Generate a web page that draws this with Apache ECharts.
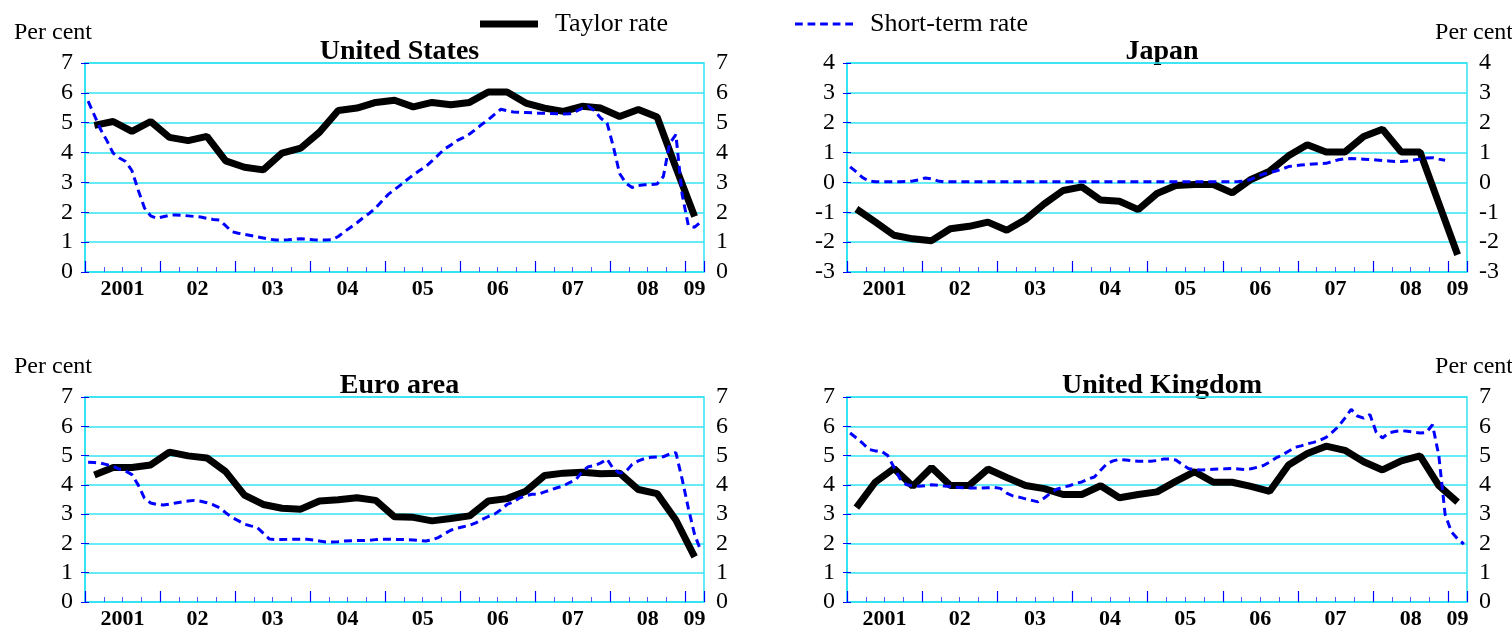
<!DOCTYPE html>
<html>
<head>
<meta charset="utf-8">
<title>Taylor rate and short-term rate</title>
<script src="https://cdn.jsdelivr.net/npm/echarts@6/dist/echarts.min.js"></script>
<style>
	html, body { margin: 0; padding: 0; background: #fff; }
	#chart { width: 1512px; height: 630px; }
</style>
</head>
<body>
<div id="chart"></div>
<script>
// x axis: 2001Q1 .. 2009Q1, one unit per quarter
const yearLabels = ['2001', '02', '03', '04', '05', '06', '07', '08', '09'];

// Taylor rate, quarterly (33 values)
const usTaylor = [4.91, 5.04, 4.71, 5.04, 4.51, 4.40, 4.54, 3.72, 3.51, 3.42, 3.98, 4.15, 4.68, 5.41, 5.49, 5.68, 5.75, 5.53, 5.68, 5.60, 5.68, 6.03, 6.03, 5.66, 5.49, 5.38, 5.55, 5.49, 5.21, 5.44, 5.19, 3.50, 1.86];
const jpTaylor = [-0.89, -1.32, -1.77, -1.89, -1.95, -1.55, -1.47, -1.33, -1.60, -1.24, -0.72, -0.27, -0.15, -0.59, -0.63, -0.91, -0.37, -0.10, -0.07, -0.07, -0.35, 0.10, 0.38, 0.89, 1.26, 1.02, 1.02, 1.54, 1.78, 1.02, 1.02, -0.70, -2.42];
const euTaylor = [4.34, 4.59, 4.59, 4.68, 5.12, 4.99, 4.92, 4.45, 3.65, 3.33, 3.20, 3.17, 3.45, 3.49, 3.56, 3.47, 2.91, 2.89, 2.77, 2.85, 2.94, 3.45, 3.53, 3.78, 4.32, 4.40, 4.43, 4.38, 4.40, 3.84, 3.70, 2.80, 1.54];
const ukTaylor = [3.22, 4.09, 4.56, 3.95, 4.59, 3.98, 3.98, 4.54, 4.25, 3.98, 3.87, 3.67, 3.67, 3.97, 3.56, 3.67, 3.76, 4.12, 4.45, 4.09, 4.09, 3.95, 3.78, 4.68, 5.07, 5.32, 5.18, 4.79, 4.51, 4.82, 4.99, 3.97, 3.41];

// Short-term rate, monthly from Jan 2001 (one row per year)
const usShort = [
	5.72, 5.25, 4.77, 4.40, 3.98, 3.82, 3.70, 3.40, 2.75, 2.15, 1.88, 1.80,
	1.85, 1.90, 1.91, 1.90, 1.88, 1.86, 1.84, 1.80, 1.76, 1.74, 1.55, 1.35,
	1.30, 1.26, 1.22, 1.18, 1.14, 1.10, 1.07, 1.07, 1.08, 1.10, 1.11, 1.10,
	1.08, 1.07, 1.07, 1.08, 1.19, 1.35, 1.50, 1.65, 1.82, 1.97, 2.15, 2.38,
	2.60, 2.76, 2.92, 3.09, 3.25, 3.40, 3.53, 3.72, 3.92, 4.12, 4.25, 4.40,
	4.50, 4.62, 4.78, 4.95, 5.10, 5.28, 5.45, 5.40, 5.36, 5.35, 5.34, 5.33,
	5.32, 5.32, 5.31, 5.30, 5.29, 5.30, 5.38, 5.48, 5.55, 5.40, 5.15, 4.99,
	4.20, 3.30, 2.98, 2.83, 2.90, 2.92, 2.93, 2.95, 3.20, 4.30, 4.60, 2.60,
	1.55, 1.50, 1.68
];
const jpShort = [
	0.52, 0.35, 0.16, 0.05, 0.02, 0.02, 0.02, 0.02, 0.02, 0.03, 0.05, 0.09,
	0.15, 0.12, 0.05, 0.02, 0.02, 0.02, 0.02, 0.02, 0.02, 0.02, 0.02, 0.02,
	0.02, 0.02, 0.02, 0.02, 0.02, 0.02, 0.02, 0.02, 0.02, 0.02, 0.02, 0.02,
	0.02, 0.02, 0.02, 0.02, 0.02, 0.02, 0.02, 0.02, 0.02, 0.02, 0.02, 0.02,
	0.02, 0.02, 0.02, 0.02, 0.02, 0.02, 0.02, 0.02, 0.02, 0.02, 0.02, 0.02,
	0.02, 0.02, 0.03, 0.05, 0.10, 0.20, 0.28, 0.33, 0.38, 0.45, 0.53, 0.56,
	0.58, 0.60, 0.62, 0.63, 0.64, 0.70, 0.76, 0.79, 0.80, 0.79, 0.78, 0.77,
	0.75, 0.73, 0.72, 0.70, 0.70, 0.72, 0.75, 0.78, 0.82, 0.83, 0.78, 0.74
];
const euShort = [
	4.77, 4.76, 4.74, 4.69, 4.63, 4.54, 4.47, 4.35, 4.00, 3.55, 3.38, 3.33,
	3.31, 3.34, 3.38, 3.42, 3.45, 3.47, 3.44, 3.39, 3.32, 3.22, 3.05, 2.89,
	2.78, 2.66, 2.60, 2.55, 2.35, 2.15, 2.13, 2.13, 2.14, 2.14, 2.14, 2.14,
	2.12, 2.08, 2.05, 2.05, 2.06, 2.08, 2.09, 2.10, 2.10, 2.11, 2.13, 2.14,
	2.14, 2.14, 2.13, 2.13, 2.12, 2.10, 2.08, 2.12, 2.20, 2.33, 2.45, 2.52,
	2.57, 2.62, 2.70, 2.82, 2.92, 3.00, 3.15, 3.33, 3.42, 3.55, 3.63, 3.68,
	3.68, 3.76, 3.83, 3.90, 3.96, 4.08, 4.17, 4.45, 4.62, 4.66, 4.75, 4.88,
	4.55, 4.40, 4.45, 4.70, 4.82, 4.90, 4.94, 4.95, 4.96, 5.05, 5.10, 4.20,
	3.20, 2.30, 1.75
];
const ukShort = [
	5.77, 5.60, 5.42, 5.21, 5.16, 5.15, 5.00, 4.60, 4.20, 4.00, 3.97, 3.95,
	3.97, 4.00, 3.99, 3.96, 3.94, 3.92, 3.90, 3.89, 3.89, 3.89, 3.90, 3.91,
	3.88, 3.72, 3.62, 3.58, 3.52, 3.47, 3.42, 3.55, 3.72, 3.85, 3.92, 3.97,
	4.05, 4.10, 4.20, 4.27, 4.50, 4.72, 4.82, 4.87, 4.85, 4.82, 4.81, 4.81,
	4.81, 4.83, 4.88, 4.88, 4.85, 4.70, 4.56, 4.52, 4.51, 4.52, 4.53, 4.54,
	4.55, 4.56, 4.54, 4.52, 4.55, 4.60, 4.66, 4.78, 4.92, 5.02, 5.15, 5.28,
	5.33, 5.40, 5.45, 5.52, 5.62, 5.80, 6.00, 6.28, 6.58, 6.35, 6.28, 6.40,
	5.80, 5.60, 5.78, 5.82, 5.85, 5.83, 5.80, 5.77, 5.79, 6.05, 5.00, 3.00,
	2.40, 2.15, 1.98
];

const FONT = '"Liberation Serif", "Times New Roman", serif';
const CYAN = '#33e3f2';
const BLUE = '#0000ff';
const QUARTERS = usTaylor.length; // 33

const panels = [
	{ name: 'United States', taylor: usTaylor, short: usShort, min: 0, max: 7, left: 85, top: 63, width: 619, side: 'left' },
	{ name: 'Japan', taylor: jpTaylor, short: jpShort, min: -3, max: 4, left: 847, top: 63, width: 620, side: 'right' },
	{ name: 'Euro area', taylor: euTaylor, short: euShort, min: 0, max: 7, left: 85, top: 397, width: 619, side: 'left' },
	{ name: 'United Kingdom', taylor: ukTaylor, short: ukShort, min: 0, max: 7, left: 847, top: 397, width: 620, side: 'right' },
];
const plotHeight = 209;

// year label sits in the middle of the quarters it covers
const yearLabelAt = {};
yearLabels.forEach((label, k) => {
	const end = Math.min(4 * k + 4, QUARTERS);
	yearLabelAt[(4 * k + end) / 2] = label;
});

const grid = [], xAxis = [], yAxis = [], series = [], graphic = [];

panels.forEach((p, g) => {
	grid.push({ left: p.left, top: p.top, width: p.width, height: plotHeight, show: true, borderColor: CYAN, borderWidth: 1.5 });

	const xBase = { type: 'value', gridIndex: g, min: 0, max: QUARTERS, position: 'bottom', splitLine: { show: false } };
	// quarter ticks
	xAxis.push(Object.assign({}, xBase, {
		interval: 1,
		axisLine: { show: true, onZero: false, lineStyle: { color: CYAN, width: 1.5 } },
		axisTick: { show: true, inside: true, length: 5, lineStyle: { color: '#5555ff', width: 1 } },
		axisLabel: { show: false },
	}));
	// year ticks
	xAxis.push(Object.assign({}, xBase, {
		interval: 4,
		axisLine: { show: false, onZero: false },
		axisTick: { show: true, inside: true, length: 11, lineStyle: { color: BLUE, width: 1.2 } },
		axisLabel: { show: false },
	}));
	// year labels
	xAxis.push(Object.assign({}, xBase, {
		interval: 0.5,
		axisLine: { show: false, onZero: false },
		axisTick: { show: false },
		axisLabel: {
			margin: 6,
			color: '#000',
			fontFamily: FONT,
			fontSize: 22,
			fontWeight: 'bold',
			formatter: (v) => yearLabelAt[v] || '',
		},
	}));

	const yBase = {
		type: 'value', gridIndex: g, min: p.min, max: p.max, interval: 1,
		axisLine: { show: true, lineStyle: { color: CYAN, width: 1.5 } },
		axisTick: { show: true, inside: true, length: 4, lineStyle: { color: BLUE, width: 1 } },
		axisLabel: { margin: 12, color: '#000', fontFamily: FONT, fontSize: 24 },
	};
	yAxis.push(Object.assign({}, yBase, { position: 'left', splitLine: { show: true, lineStyle: { color: CYAN, width: 1.6 } } }));
	yAxis.push(Object.assign({}, yBase, { position: 'right', splitLine: { show: false } }));

	series.push({
		name: 'Taylor rate',
		type: 'line',
		xAxisIndex: 3 * g,
		yAxisIndex: 2 * g,
		data: p.taylor.map((v, i) => [i + 0.5, v]),
		symbol: 'none',
		lineStyle: { color: '#000', width: 7 },
		itemStyle: { color: '#000' },
		z: 3,
	});
	series.push({
		name: 'Short-term rate',
		type: 'line',
		xAxisIndex: 3 * g,
		yAxisIndex: 2 * g,
		data: p.short.map((v, m) => [(m + 0.5) / 3, v]),
		symbol: 'none',
		lineStyle: { color: BLUE, width: 3, type: [8, 5] },
		itemStyle: { color: BLUE },
		z: 4,
	});

	// panel title + "Per cent"
	graphic.push({
		type: 'text', x: p.left + p.width / 2 + 5, y: p.top - 25,
		style: { text: p.name, font: 'bold 28px ' + FONT, fill: '#000', textAlign: 'center', textVerticalAlign: 'top' },
	});
	graphic.push({
		type: 'text', x: p.side === 'left' ? 14 : 1513, y: p.top - 42,
		style: { text: 'Per cent', font: '24px ' + FONT, fill: '#000', textAlign: p.side, textVerticalAlign: 'top' },
	});
});

const legendBase = {
	top: 11,
	padding: 0,
	itemWidth: 58,
	selectedMode: false,
	textStyle: { fontFamily: FONT, fontSize: 26, color: '#000', padding: [0, 0, 0, 12] },
};

const option = {
	animation: false,
	backgroundColor: '#fff',
	legend: [
		// solid thick bar
		Object.assign({}, legendBase, { data: ['Taylor rate'], left: 480, icon: 'rect', itemHeight: 7 }),
		// five short dashes
		Object.assign({}, legendBase, {
			data: ['Short-term rate'], left: 795, itemHeight: 3,
			icon: 'path://M0,0H8V3H0Z M13,0H21V3H13Z M26,0H34V3H26Z M39,0H47V3H39Z M52,0H60V3H52Z',
		}),
	],
	grid: grid,
	xAxis: xAxis,
	yAxis: yAxis,
	series: series,
	graphic: graphic,
};

const chart = echarts.init(document.getElementById('chart'));
chart.setOption(option);
</script>
</body>
</html>
